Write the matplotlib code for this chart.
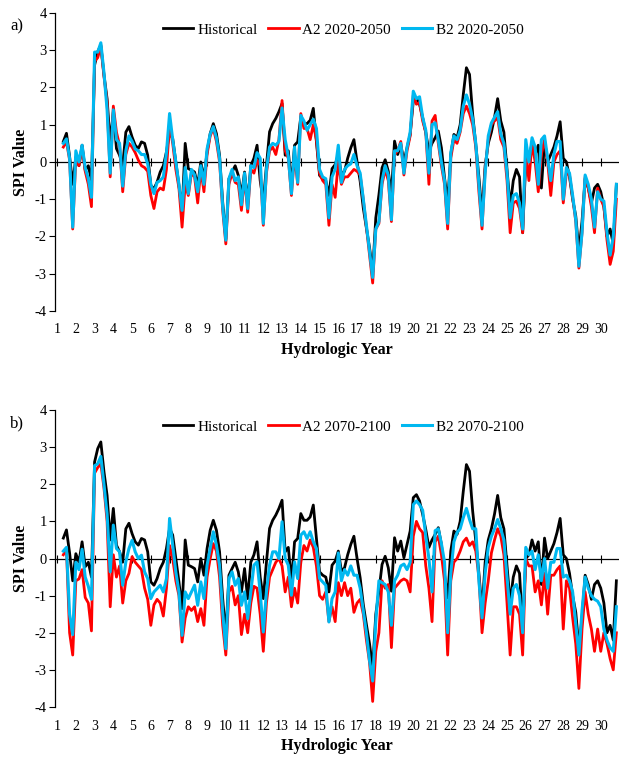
import numpy as np
import matplotlib
matplotlib.use("Agg")
import matplotlib.pyplot as plt

plt.rcParams['font.family'] = ['Liberation Serif', 'DejaVu Serif']
plt.rcParams['axes.unicode_minus'] = False

# SPI values, every 2nd month, one row per hydrologic year
# (year 1 starts at month 5)
hist_by_year = [
    [0.55, 0.77, 0.15, -0.6],
    [0.13, -0.1, 0.45, -0.22, -0.1, -0.5],
    [2.6, 2.96, 3.14, 2.34, 1.7, 0.5],
    [1.35, 0.36, 0.18, -0.1, 0.8, 0.95],
    [0.67, 0.45, 0.36, 0.54, 0.5, 0.18],
    [-0.63, -0.72, -0.54, -0.27, -0.1, 0.27],
    [0.81, 0.63, 0.0, -0.63, -1.35, 0.5],
    [-0.18, -0.22, -0.27, -0.63, 0.0, -0.45],
    [0.27, 0.76, 1.03, 0.76, 0.18, -1.08],
    [-2.07, -0.45, -0.27, -0.1, -0.36, -0.9],
    [-0.27, -1.08, -0.1, 0.1, 0.45, -0.5],
    [-1.08, -0.1, 0.81, 1.03, 1.17, 1.35],
    [1.57, 0.18, 0.3, -0.63, 0.45, 0.54],
    [1.21, 1.03, 1.03, 1.12, 1.44, 0.54],
    [-0.36, -0.45, -0.5, -0.9, -0.18, -0.07],
    [0.2, -0.34, -0.25, 0.1, 0.38, 0.6],
    [0.0, -0.52, -1.24, -1.78, -2.3, -2.95],
    [-1.5, -0.88, -0.16, 0.06, -0.25, -0.88],
    [0.56, 0.2, 0.47, 0.02, 0.38, 0.74],
    [1.64, 1.72, 1.55, 1.19, 0.78, 0.3],
    [0.5, 0.65, 0.83, 0.38, -0.43, -1.06],
    [0.2, 0.74, 0.65, 1.0, 1.81, 2.53],
    [2.35, 1.28, 0.47, -0.4, -1.4, -0.1],
    [0.5, 0.8, 1.2, 1.7, 1.1, 0.8],
    [-0.2, -1.2, -0.5, -0.2, -0.4, -1.9],
    [0.0, 0.1, 0.5, 0.2, 0.45, -0.7],
    [0.55, 0.0, 0.2, 0.4, 0.7, 1.08],
    [0.1, 0.0, -0.4, -1.0, -1.45, -2.4],
    [-1.6, -0.45, -0.7, -1.1, -0.7, -0.6],
    [-0.8, -1.2, -2.0, -1.8, -2.2, -0.6],
]

a2_2050_by_year = [
    [0.4, 0.55, 0.05, -1.8],
    [0.1, -0.1, 0.4, -0.25, -0.6, -1.2],
    [2.7, 2.8, 3.1, 2.3, 1.6, -0.4],
    [1.5, 0.8, 0.45, -0.8, 0.2, 0.5],
    [0.4, 0.25, 0.05, -0.1, -0.15, -0.25],
    [-0.9, -1.25, -0.8, -0.7, -0.75, -0.2],
    [1.0, 0.5, -0.2, -0.7, -1.75, -0.6],
    [-0.9, -0.3, -0.4, -1.1, -0.2, -0.8],
    [0.2, 0.7, 0.9, 0.55, 0.0, -1.3],
    [-2.2, -0.6, -0.3, -0.55, -0.6, -1.3],
    [-0.4, -1.35, -0.2, -0.3, 0.05, -0.1],
    [-1.7, -0.3, 0.3, 0.4, 0.2, 0.6],
    [1.65, 0.3, 0.1, -0.9, 0.2, -0.6],
    [1.3, 0.9, 0.9, 0.6, 1.0, 0.6],
    [-0.3, -0.5, -0.6, -1.7, -0.6, -0.95],
    [0.0, -0.6, -0.4, -0.4, -0.3, -0.2],
    [-0.25, -0.35, -1.0, -1.75, -2.5, -3.25],
    [-1.8, -1.65, -0.6, -0.2, -0.5, -1.6],
    [0.2, 0.3, 0.55, -0.35, 0.3, 0.7],
    [1.8, 1.55, 1.6, 1.1, 0.8, -0.6],
    [1.1, 1.25, 0.5, -0.1, -0.6, -1.8],
    [0.1, 0.6, 0.5, 0.8, 1.3, 1.5],
    [1.3, 1.0, 0.4, -0.8, -1.8, -0.2],
    [0.6, 1.0, 1.1, 1.2, 0.6, 0.4],
    [-0.5, -1.9, -1.1, -1.05, -1.25, -1.9],
    [0.3, -0.5, 0.5, 0.0, -0.8, 0.2],
    [0.6, 0.0, -0.9, 0.0, 0.2, 0.3],
    [-1.1, -0.3, -0.35, -0.95, -1.6, -2.85],
    [-1.9, -0.4, -0.7, -1.2, -1.9, -0.7],
    [-1.0, -1.2, -2.1, -2.75, -2.4, -1.0],
]

b2_2050_by_year = [
    [0.5, 0.62, 0.1, -1.75],
    [0.3, 0.0, 0.45, -0.15, -0.45, -0.95],
    [2.95, 2.95, 3.2, 2.4, 1.4, -0.3],
    [1.4, 0.6, 0.5, -0.65, 0.3, 0.7],
    [0.55, 0.35, 0.3, 0.2, 0.2, -0.05],
    [-0.6, -0.85, -0.55, -0.5, -0.4, 0.25],
    [1.3, 0.6, 0.0, -0.6, -1.3, -0.15],
    [-0.85, -0.2, -0.35, -0.8, -0.1, -0.6],
    [0.35, 0.75, 0.95, 0.65, 0.1, -1.2],
    [-2.1, -0.45, -0.2, -0.5, -0.4, -1.15],
    [-0.3, -1.25, -0.1, -0.15, 0.25, 0.1],
    [-1.65, -0.2, 0.4, 0.5, 0.45, 0.55],
    [1.45, 0.6, 0.15, -0.85, 0.4, -0.55],
    [1.25, 1.1, 0.85, 1.0, 1.15, 0.9],
    [-0.2, -0.4, -0.45, -1.5, -0.4, -0.2],
    [0.45, -0.55, -0.2, -0.1, -0.05, 0.2],
    [-0.1, -0.3, -1.0, -1.7, -2.4, -3.1],
    [-1.8, -1.6, -0.5, -0.1, -0.35, -1.55],
    [0.3, 0.3, 0.5, -0.3, 0.4, 0.8],
    [1.9, 1.7, 1.75, 1.2, 0.85, -0.3],
    [1.0, 1.05, 0.6, 0.0, -0.5, -1.65],
    [0.25, 0.7, 0.6, 0.85, 1.5, 1.8],
    [1.55, 1.15, 0.5, -0.6, -1.7, -0.3],
    [0.7, 1.05, 1.2, 1.35, 0.75, 0.5],
    [-0.3, -1.5, -0.9, -0.85, -1.1, -1.8],
    [0.6, 0.0, 0.65, 0.4, -0.6, 0.6],
    [0.7, 0.1, -0.5, 0.2, 0.55, 0.55],
    [-1.0, -0.15, -0.3, -0.9, -1.55, -2.8],
    [-1.9, -0.35, -0.6, -1.0, -1.75, -0.8],
    [-1.0, -1.05, -1.9, -2.5, -2.0, -0.6],
]

a2_2100_by_year = [
    [0.1, 0.25, -2.0, -2.6],
    [-0.6, -0.55, -0.3, -1.05, -1.2, -1.95],
    [2.3, 2.45, 2.55, 1.9, 1.0, -1.3],
    [0.1, -0.5, -0.2, -1.2, -0.6, -0.4],
    [0.05, -0.1, -0.2, -0.3, -0.8, -1.1],
    [-1.8, -1.25, -1.1, -1.2, -1.55, -0.8],
    [0.35, 0.0, -0.6, -1.0, -2.25, -1.6],
    [-1.3, -1.4, -1.3, -1.7, -1.35, -1.8],
    [-0.5, 0.0, 0.4, 0.2, -0.5, -1.8],
    [-2.6, -0.9, -0.75, -1.25, -1.0, -2.05],
    [-1.5, -2.0, -1.2, -0.75, -0.8, -1.5],
    [-2.5, -1.2, -0.5, -0.3, -0.1, 0.0],
    [-0.2, -0.9, -0.5, -1.3, -0.8, -1.2],
    [-0.1, 0.35, 0.2, 0.5, 0.3, -0.2],
    [-1.0, -1.1, -0.9, -1.7, -1.3, -1.7],
    [-0.65, -1.0, -0.65, -1.0, -0.8, -1.45],
    [-1.2, -1.1, -1.5, -2.2, -2.8, -3.85],
    [-2.5, -2.0, -0.6, -0.8, -0.7, -2.4],
    [-0.8, -0.7, -0.6, -0.55, -0.6, -0.9],
    [0.6, 1.0, 0.8, 0.7, -0.2, -0.8],
    [-1.7, 0.45, 0.6, 0.1, -0.6, -2.6],
    [-0.6, -0.1, 0.0, 0.2, 0.45, 0.55],
    [0.35, 0.45, 0.2, -0.5, -2.0, -1.2],
    [-0.6, 0.15, 0.5, 0.8, 0.6, 0.1],
    [-1.2, -2.6, -1.3, -1.3, -1.5, -2.6],
    [0.0, -0.2, -0.2, -0.9, -0.6, -1.25],
    [-0.4, -1.5, -0.45, -0.45, -0.3, -0.2],
    [-1.9, -0.6, -0.8, -1.6, -2.3, -3.5],
    [-1.9, -0.9, -1.5, -1.9, -2.5, -1.9],
    [-2.5, -2.0, -2.3, -2.7, -3.0, -2.0],
]

b2_2100_by_year = [
    [0.2, 0.3, -1.5, -2.05],
    [-0.1, -0.3, 0.25, -0.5, -0.75, -1.1],
    [2.5, 2.55, 2.75, 2.0, 1.2, -0.36],
    [0.9, 0.27, 0.18, -0.72, -0.09, 0.27],
    [0.49, 0.18, 0.0, 0.09, -0.36, -0.54],
    [-1.08, -0.9, -0.81, -0.72, -0.9, -0.54],
    [1.08, 0.36, -0.36, -0.9, -2.07, -0.9],
    [-1.08, -0.9, -0.72, -1.26, -0.63, -1.08],
    [-0.18, 0.27, 0.72, 0.36, -0.18, -1.44],
    [-2.43, -0.54, -0.36, -0.72, -0.54, -1.26],
    [-0.9, -1.62, -0.9, -0.18, -0.09, -0.9],
    [-1.98, -0.9, -0.18, 0.18, 0.18, 0.0],
    [0.99, 0.0, -0.18, -0.99, -0.09, -0.54],
    [0.63, 0.72, 0.54, 0.72, 0.45, 0.27],
    [-0.54, -0.63, -0.72, -1.71, -1.08, -0.9],
    [0.15, -0.6, -0.3, -0.45, -0.2, -0.45],
    [-0.45, -0.8, -1.4, -2.0, -2.75, -3.3],
    [-1.7, -0.6, -0.65, -0.7, -0.9, -1.8],
    [-0.6, -0.45, -0.2, -0.15, -0.3, -0.1],
    [1.45, 1.55, 1.45, 1.3, 0.6, 0.0],
    [-0.9, 0.75, 0.8, 0.4, -0.1, -2.0],
    [-0.4, 0.45, 0.7, 0.8, 1.1, 1.35],
    [1.05, 0.8, 0.8, -0.6, -1.6, -0.4],
    [0.3, 0.6, 0.8, 1.05, 0.8, 0.5],
    [-0.5, -1.5, -0.8, -0.7, -1.0, -2.0],
    [0.3, 0.1, 0.2, -0.3, 0.1, -0.6],
    [0.0, -0.8, -0.1, -0.1, 0.27, 0.27],
    [-0.5, -0.45, -0.6, -0.9, -1.75, -2.6],
    [-1.4, -0.5, -0.8, -1.0, -1.1, -1.15],
    [-1.3, -1.9, -2.2, -2.4, -2.5, -1.3],
]

years = np.arange(1, 31)
hist = np.concatenate(hist_by_year)
a2_2050 = np.concatenate(a2_2050_by_year)
b2_2050 = np.concatenate(b2_2050_by_year)
a2_2100 = np.concatenate(a2_2100_by_year)
b2_2100 = np.concatenate(b2_2100_by_year)

months = np.arange(5, 5 + 2 * len(hist), 2)
t = 1 + (months - 1) / 12.0

BLUE = '#00B8F0'

fig = plt.figure(figsize=(6.19, 7.59), dpi=100)
ax_a = fig.add_axes([0.0889, 0.5903, 0.9095, 0.3926])
ax_b = fig.add_axes([0.0889, 0.0685, 0.9095, 0.3913])


def draw_panel(ax, a2, b2, period, tag):
    ax.plot(t, hist, color='black', lw=2.0, label='Historical', zorder=3)
    ax.plot(t, a2, color='#FF0000', lw=2.0, label='A2 ' + period, zorder=4)
    ax.plot(t, b2, color=BLUE, lw=2.2, label='B2 ' + period, zorder=5)

    ax.set_xlim(0.89, 30.92)
    ax.set_ylim(-4, 4)
    ax.spines['top'].set_visible(False)
    ax.spines['right'].set_visible(False)
    ax.spines['bottom'].set_position(('data', 0))
    ax.spines['bottom'].set_zorder(1.5)
    ax.spines['bottom'].set_linewidth(0.9)
    ax.spines['left'].set_linewidth(0.9)

    ax.set_xticks(years)
    ax.tick_params(axis='x', direction='inout', length=6, width=0.8,
                   labelbottom=False)
    ax.set_yticks(range(-4, 5))
    ax.tick_params(axis='y', direction='out', length=4, width=0.8,
                   pad=2, labelsize=10.5)

    sec = ax.secondary_xaxis('bottom')
    sec.set_xticks(years)
    sec.tick_params(length=0, pad=9, labelsize=10)
    sec.spines['bottom'].set_visible(False)
    sec.set_xlabel('Hydrologic Year', fontsize=11.5, fontweight='bold',
                   labelpad=4)

    ax.set_ylabel('SPI Value', fontsize=11.5, fontweight='bold', labelpad=4)

    ax.legend(loc='center', bbox_to_anchor=(0.512, 0.943), ncol=3,
              frameon=False, fontsize=11, handlelength=2.0,
              handletextpad=0.25, columnspacing=0.7, borderaxespad=0)

    ax.text(-0.08, 0.955, tag, transform=ax.transAxes, fontsize=12,
            ha='left', va='center')


draw_panel(ax_a, a2_2050, b2_2050, '2020-2050', 'a)')
draw_panel(ax_b, a2_2100, b2_2100, '2070-2100', 'b)')

fig.savefig('out.png', dpi=100)
